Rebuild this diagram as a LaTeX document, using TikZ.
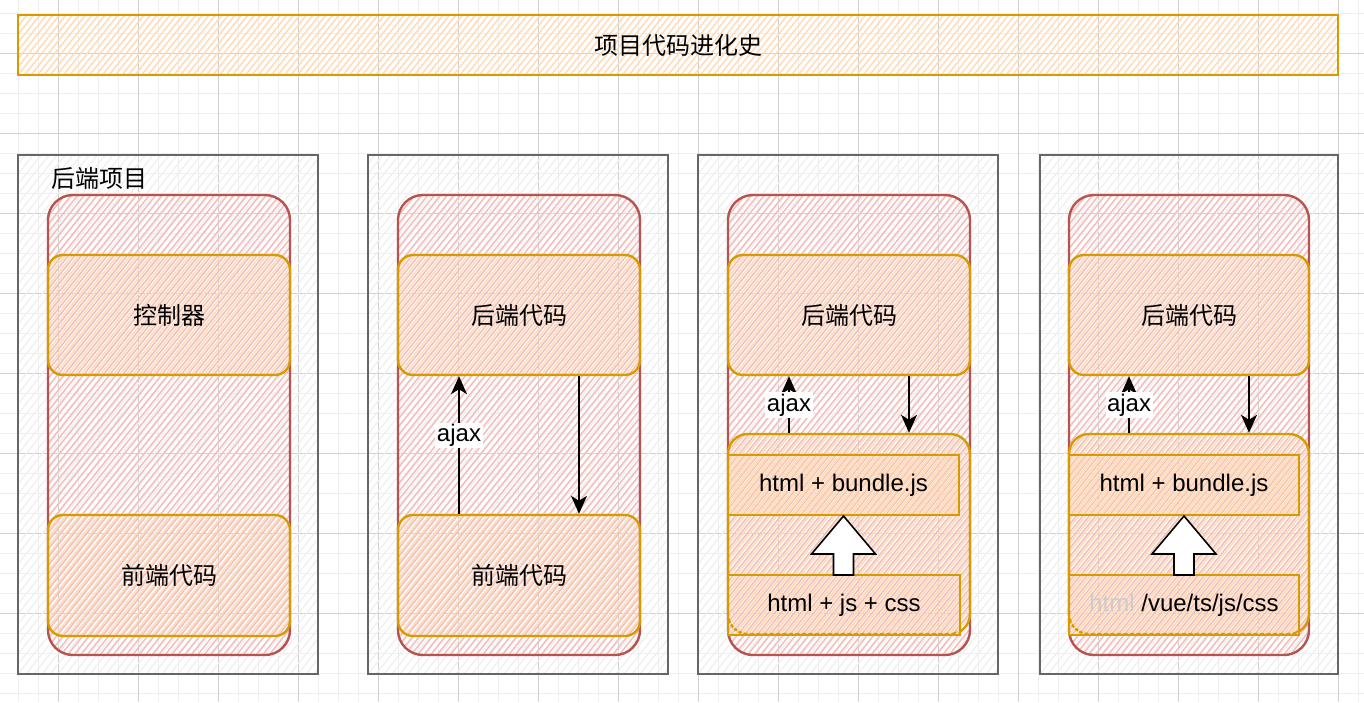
\documentclass[tikz,border=0pt]{standalone}
\usepackage{fontspec}
\setmainfont{Liberation Sans}
\newfontfamily\cjk{Noto Sans CJK SC}
\usetikzlibrary{arrows.meta,calc}
\definecolor{redS}{HTML}{B85450}
\definecolor{redF}{HTML}{F4BEBC}
\definecolor{orgS}{HTML}{D79B00}
\definecolor{orgF}{HTML}{FFDCB8}
\definecolor{grayS}{HTML}{666666}
\definecolor{grayF}{HTML}{F0F0F0}
\definecolor{gridA}{HTML}{EFEFEF}
\definecolor{gridB}{HTML}{D0D0D0}
\definecolor{lightTxt}{HTML}{CCCCCC}
\newcommand\hatchlines[2]{%
  \pgfpointdiff{\pgfpointanchor{path picture bounding box}{south west}}{\pgfpointanchor{path picture bounding box}{north east}}%
  \pgfgetlastxy{\hw}{\hh}%
  \pgfmathtruncatemacro{\nA}{-\hh*0.8/#2-2}%
  \pgfmathtruncatemacro{\nB}{\hw/#2+2}%
  \foreach \k in {\nA,...,\nB}{\draw[#1] ([xshift={\k*#2}]path picture bounding box.south west) -- ++({0.8*\hh},{\hh});}%
}
\newcommand\dn[1]{\raisebox{-2.5pt}{#1}}
\tikzset{
  txt/.style={font=\fontsize{24}{28}\selectfont},
  ctxt/.style={font=\cjk\fontsize{24}{28}\selectfont},
  panel/.style={draw=grayS, line width=2.2pt, minimum width=300, minimum height=519, inner sep=0,
    path picture={\hatchlines{grayF, line width=1.3pt}{8}}},
  redbox/.style={draw=redS, line width=2.4pt, rounded corners=25, minimum width=242, minimum height=460, inner sep=0,
    path picture={\hatchlines{redF, line width=1.5pt}{6.5}}},
  orgbox/.style={draw=orgS, line width=2.4pt, rounded corners=15, minimum width=242, minimum height=120, inner sep=0,
    path picture={\hatchlines{orgF, line width=1.5pt}{6.5}}},
  orgrect/.style={draw=orgS, line width=2pt, minimum width=231, minimum height=60, inner sep=0,
    path picture={\hatchlines{orgF, line width=1.5pt}{6.5}}},
  arr/.style={draw=black, line width=1.6pt},
  lbl/.style={fill=white, inner sep=1.5pt, txt},
  blockarr/.style={draw=black, line width=1.6pt, fill=white, line join=miter},
}
\begin{document}
\begin{tikzpicture}[x=1pt,y=-1pt]
\useasboundingbox (0,0) rectangle (1364,702);
\fill[white] (0,0) rectangle (1364,702);
% grid
\foreach \gx in {0,...,68} \draw[gridA, line width=1pt] ({18.3+20*\gx},0) -- ({18.3+20*\gx},702);
\foreach \gy in {0,...,34} \draw[gridA, line width=1pt] (0,{13.3+20*\gy}) -- (1364,{13.3+20*\gy});
\foreach \gx in {0,...,17} \draw[gridB, line width=1pt] ({-21.7+80*\gx},0) -- ({-21.7+80*\gx},702);
\foreach \gy in {0,...,8} \draw[gridB, line width=1pt] (0,{-26.7+80*\gy}) -- (1364,{-26.7+80*\gy});

% title
\node[draw=orgS, line width=2.4pt, minimum width=1320, minimum height=60, inner sep=0,
  path picture={\hatchlines{orgF, line width=1.5pt}{6.5}}, ctxt] (title) at (678,45) {\dn{项目代码进化史}};

% panels
\node[panel] (p1) at (168,414.5) {};
\node[panel] (p2) at (518,414.5) {};
\node[panel] (p3) at (848,414.5) {};
\node[panel, minimum width=298] (p4) at (1189,414.5) {};
\node[ctxt, anchor=west, inner sep=0] (p1lbl) at (51,178) {后端项目};

% red boxes
\node[redbox] (r1) at (169,425) {};
\node[redbox] (r2) at (519,425) {};
\node[redbox] (r3) at (849,425) {};
\node[redbox, minimum width=240] (r4) at (1189,425) {};

% top orange boxes
\node[orgbox, ctxt] (o1) at (169,315) {\dn{控制器}};
\node[orgbox, ctxt] (o2) at (519,315) {\dn{后端代码}};
\node[orgbox, ctxt] (o3) at (849,315) {\dn{后端代码}};
\node[orgbox, ctxt, minimum width=240] (o4) at (1189,315) {\dn{后端代码}};

% bottom orange boxes
\node[orgbox, ctxt, minimum height=121] (f1) at (169,575.5) {\dn{前端代码}};
\node[orgbox, ctxt, minimum height=121] (f2) at (519,575.5) {\dn{前端代码}};

% containers
\node[orgbox, rounded corners=20, minimum height=200] (c3) at (849,534) {};
\node[orgbox, rounded corners=20, minimum height=200, minimum width=240] (c4) at (1189,534) {};

% inner rects
\node[orgrect, txt] (b3) at (843.5,485) {\dn{html + bundle.js}};
\node[orgrect, txt, minimum width=230] (b4) at (1184,485) {\dn{html + bundle.js}};
\node[orgrect, txt, minimum width=232] (s3) at (844,605) {\dn{html + js + css}};
\node[orgrect, txt, minimum width=230] (s4) at (1184,605) {\dn{\textcolor{lightTxt}{html} /vue/ts/js/css}};

% block arrows
\draw[blockarr] (b3.south) -- ++(32,38) -- ++(-22,0) -- ++(0,21) -- ++(-20,0) -- ++(0,-21) -- ++(-22,0) -- cycle;
\draw[blockarr] (b4.south) -- ++(32,38) -- ++(-22,0) -- ++(0,21) -- ++(-20,0) -- ++(0,-21) -- ++(-22,0) -- cycle;

% ajax arrows
\draw[arr, arrows={-Stealth[length=18pt,width=16pt,inset=5pt]}] ([xshift=-60]f2.north) -- node[lbl, pos=0.57] (aj2) {ajax} ([xshift=-60]o2.south);
\draw[arr, arrows={-Stealth[length=18pt,width=16pt,inset=5pt]}] ([xshift=60]o2.south) -- ([xshift=60]f2.north);
\draw[arr, arrows={-Stealth[length=18pt,width=16pt,inset=5pt]}] ([xshift=-60]c3.north) -- node[lbl, pos=0.49] (aj3) {ajax} ([xshift=-60]o3.south);
\draw[arr, arrows={-Stealth[length=18pt,width=16pt,inset=5pt]}] ([xshift=60]o3.south) -- ([xshift=60]c3.north);
\draw[arr, arrows={-Stealth[length=18pt,width=16pt,inset=5pt]}] ([xshift=-60]c4.north) -- node[lbl, pos=0.49] (aj4) {ajax} ([xshift=-60]o4.south);
\draw[arr, arrows={-Stealth[length=18pt,width=16pt,inset=5pt]}] ([xshift=60]o4.south) -- ([xshift=60]c4.north);
\end{tikzpicture}
\end{document}
